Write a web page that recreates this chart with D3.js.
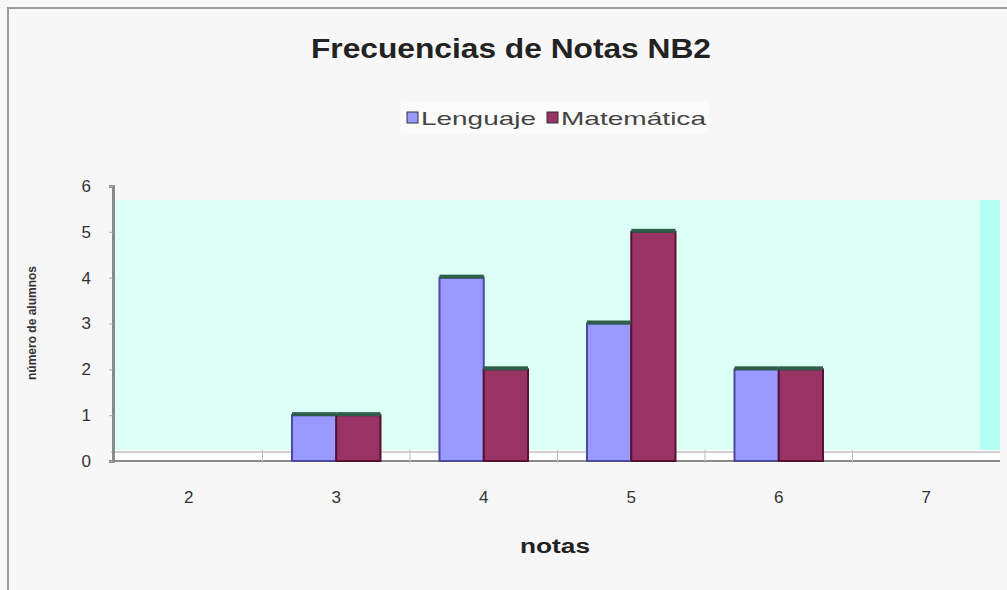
<!DOCTYPE html>
<html>
<head>
<meta charset="utf-8">
<script src="https://cdn.jsdelivr.net/npm/d3@7"></script>
<style>
  body { margin: 0; background: #fff; }
  text { font-family: Arial, "Liberation Sans", sans-serif; }
</style>
</head>
<body>
<svg width="1007" height="590"></svg>
<script>
// data
var notas = ['2', '3', '4', '5', '6', '7'];
var series = ['Lenguaje', 'Matemática'];
var lenguaje = [0, 1, 4, 3, 2, 0];
var matematica = [0, 1, 2, 5, 2, 0];
var yTicks = [0, 1, 2, 3, 4, 5, 6];
var colors = ['#9999ff', '#993366'];

var svg = d3.select('svg');

// chart area background + border
svg.append('rect')
  .attr('x', 0).attr('y', 0)
  .attr('width', 1007).attr('height', 590)
  .attr('fill', '#f7f7f7');
svg.append('path')
  .attr('d', 'M8,590 V8 H1007')
  .attr('fill', 'none')
  .attr('stroke', '#9a9a9a')
  .attr('stroke-width', 2);

var left = 115, right = 1000;
var y0 = 461, yTop = 186;

var x = d3.scaleBand().domain(notas).range([left, right]);
var bw = x.bandwidth();
var xSub = d3.scaleBand().domain(series).range([bw * 0.2, bw * 0.8]);
var y = d3.scaleLinear().domain([0, 6]).range([y0, yTop]);

// back wall
svg.append('rect')
  .attr('x', left).attr('y', 200)
  .attr('width', right - left).attr('height', 250)
  .attr('fill', '#dcfff6');
svg.append('rect')
  .attr('x', 980).attr('y', 200)
  .attr('width', 20).attr('height', 250)
  .attr('fill', '#b4fff4');

// floor
svg.append('rect')
  .attr('x', left - 4).attr('y', 450)
  .attr('width', right - left + 4).attr('height', 13)
  .attr('fill', '#ffffff');
svg.append('line')
  .attr('x1', left - 4).attr('x2', right)
  .attr('y1', 452).attr('y2', 452)
  .attr('stroke', '#d0d0d0').attr('stroke-width', 2);
svg.append('line')
  .attr('x1', left - 4).attr('x2', right)
  .attr('y1', 461).attr('y2', 461)
  .attr('stroke', '#8a8a8a').attr('stroke-width', 2);

// category dividers on the floor
svg.append('g')
  .selectAll('line')
  .data(notas.slice(1))
  .join('line')
  .attr('x1', function (d) { return x(d); })
  .attr('x2', function (d) { return x(d); })
  .attr('y1', 450).attr('y2', 463)
  .attr('stroke', '#bbbbbb');

// y axis
var yAxis = svg.append('g')
  .attr('transform', 'translate(' + 113 + ',0)')
  .call(d3.axisLeft(y).tickValues(yTicks).tickFormat(d3.format('d')).tickSize(4).tickPadding(18));
yAxis.select('.domain').attr('stroke', '#8a8a8a').attr('stroke-width', 3);
yAxis.selectAll('.tick line').attr('stroke', '#aaaaaa');
yAxis.selectAll('.tick text')
  .attr('font-size', 17)
  .attr('fill', '#333');

// x labels
svg.append('g')
  .selectAll('text')
  .data(notas)
  .join('text')
  .attr('x', function (d) { return x(d) + bw / 2; })
  .attr('y', 503)
  .attr('text-anchor', 'middle')
  .attr('font-size', 17)
  .attr('fill', '#333')
  .text(function (d) { return d; });

// bars
var rows = notas.map(function (n, i) {
  return { nota: n, vals: [lenguaje[i], matematica[i]] };
});

var groups = svg.append('g')
  .selectAll('g')
  .data(rows)
  .join('g')
  .attr('transform', function (d) { return 'translate(' + x(d.nota) + ',0)'; });

groups.selectAll('rect.bar')
  .data(function (d) {
    return d.vals.map(function (v, j) { return { s: series[j], v: v, j: j }; })
      .filter(function (e) { return e.v > 0; });
  })
  .join('rect')
  .attr('class', 'bar')
  .attr('x', function (d) { return xSub(d.s); })
  .attr('y', function (d) { return y(d.v); })
  .attr('width', xSub.bandwidth())
  .attr('height', function (d) { return y0 - y(d.v); })
  .attr('fill', function (d) { return colors[d.j]; })
  .attr('stroke', function (d) { return d.j === 0 ? '#4a4aa0' : '#5a1030'; })
  .attr('stroke-width', 2);

// top highlight of the 3D bars
groups.selectAll('rect.top')
  .data(function (d) {
    return d.vals.map(function (v, j) { return { s: series[j], v: v, j: j }; })
      .filter(function (e) { return e.v > 0; });
  })
  .join('rect')
  .attr('class', 'top')
  .attr('x', function (d) { return xSub(d.s); })
  .attr('y', function (d) { return y(d.v) - 3; })
  .attr('width', xSub.bandwidth())
  .attr('height', 4)
  .attr('fill', '#2e5d4a');

// title
svg.append('text')
  .attr('x', 511).attr('y', 58)
  .attr('text-anchor', 'middle')
  .attr('font-size', 28)
  .attr('font-weight', 'bold')
  .attr('fill', '#222')
  .attr('textLength', 400)
  .attr('lengthAdjust', 'spacingAndGlyphs')
  .text('Frecuencias de Notas NB2');

// legend
var legend = svg.append('g').attr('transform', 'translate(' + 405 + ',' + 118 + ')');
legend.append('rect')
  .attr('x', -4).attr('y', -17)
  .attr('width', 308).attr('height', 32)
  .attr('fill', '#fbfbfb');
var legX = [0, 140];
var legW = [115, 145];
series.forEach(function (s, i) {
  legend.append('rect')
    .attr('x', legX[i] + 2).attr('y', -6)
    .attr('width', 11).attr('height', 11)
    .attr('fill', colors[i])
    .attr('stroke', '#333');
  legend.append('text')
    .attr('x', legX[i] + 16).attr('y', 7)
    .attr('font-size', 19)
    .attr('fill', '#444')
    .attr('textLength', legW[i])
    .attr('lengthAdjust', 'spacingAndGlyphs')
    .text(s);
});

// axis titles
svg.append('text')
  .attr('x', 555).attr('y', 553)
  .attr('text-anchor', 'middle')
  .attr('font-size', 20)
  .attr('font-weight', 'bold')
  .attr('fill', '#222')
  .attr('textLength', 70)
  .attr('lengthAdjust', 'spacingAndGlyphs')
  .text('notas');

svg.append('text')
  .attr('transform', 'translate(' + 36 + ',' + 323 + ') rotate(-90)')
  .attr('text-anchor', 'middle')
  .attr('font-size', 12)
  .attr('font-weight', 'bold')
  .attr('fill', '#333')
  .text('número de alumnos');
</script>
</body>
</html>
